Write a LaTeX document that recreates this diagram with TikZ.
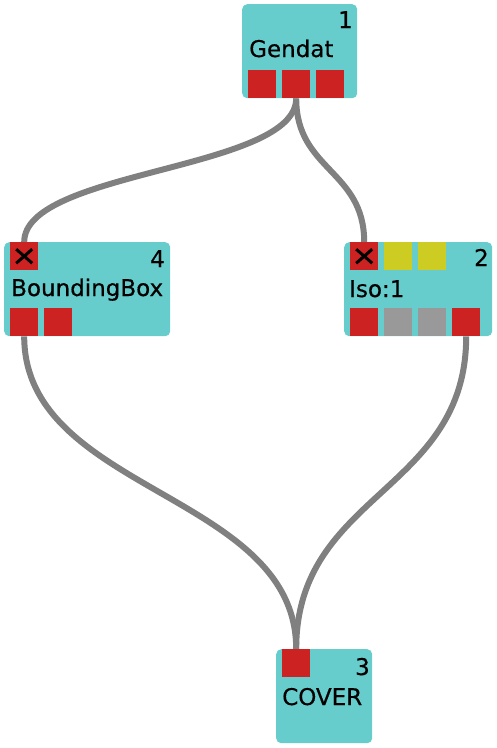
\documentclass[tikz,border=0pt]{standalone}
\usepackage{fontspec}
\setmainfont{DejaVu Sans}
\usetikzlibrary{backgrounds}
\definecolor{modcyan}{RGB}{102,204,204}
\definecolor{portred}{RGB}{204,34,34}
\definecolor{portyellow}{RGB}{204,204,34}
\definecolor{portgray}{RGB}{153,153,153}
\definecolor{wiregray}{RGB}{128,128,128}
\tikzset{
  module/.style={fill=modcyan, rounded corners=5pt, anchor=north west, inner sep=0pt, minimum height=94pt},
  port/.style={fill=#1, anchor=north west, inner sep=0pt, minimum size=28pt},
  port/.default=portred,
  lbl/.style={inner sep=0pt, font=\fontsize{23}{27}\selectfont\addfontfeatures{FakeBold=0.4}},
  wire/.style={draw=wiregray, line width=6pt},
  cross/.style={draw=black, line width=3pt},
}

\begin{document}
\begin{tikzpicture}[x=1pt,y=-1pt]
        \useasboundingbox (0,0) rectangle (496,748);

        % Gendat
        \node[module, minimum width=115pt] at (242,4) (g) {};
        \node[port] at (248,70) (g-o1) {};
        \node[port] at (282,70) (g-o2) {};
        \node[port] at (316,70) (g-o3) {};
        \node[lbl, anchor=base west] at (249,57) (g-name) {Gendat};
        \node[lbl, anchor=base east] at (353,28) (g-num) {1};

        % BoundingBox
        \node[module, minimum width=166pt] at (4,242) (b) {};
        \node[port] at (10,242) (b-i1) {};
        \node[port] at (10,308) (b-o1) {};
        \node[port] at (44,308) (b-o2) {};
        \node[lbl, anchor=base west] at (11,296) (b-name) {BoundingBox};
        \node[lbl, anchor=base east] at (165,267) (b-num) {4};

        % Iso:1
        \node[module, minimum width=148pt] at (344,242) (s) {};
        \node[port] at (350,242) (s-i1) {};
        \node[port=portyellow] at (384,242) (s-i2) {};
        \node[port=portyellow] at (418,242) (s-i3) {};
        \node[port] at (350,308) (s-o1) {};
        \node[port=portgray] at (384,308) (s-o2) {};
        \node[port=portgray] at (418,308) (s-o3) {};
        \node[port] at (452,308) (s-o4) {};
        \node[lbl, anchor=base west] at (349,297) (s-name) {Iso:1};
        \node[lbl, anchor=base east] at (489,266) (s-num) {2};

        % COVER
        \node[module, minimum width=96pt] at (276,649) (c) {};
        \node[port] at (282,649) (c-i1) {};
        \node[lbl, anchor=base west] at (282,705) (c-name) {COVER};
        \node[lbl, anchor=base east] at (370,675) (c-num) {3};

        % unconnected inputs
        \draw[cross] ([shift={(-8,-7)}]b-i1.center) -- ([shift={(8,7)}]b-i1.center);
        \draw[cross] ([shift={(-8,7)}]b-i1.center) -- ([shift={(8,-7)}]b-i1.center);
        \draw[cross] ([shift={(-8,-7)}]s-i1.center) -- ([shift={(8,7)}]s-i1.center);
        \draw[cross] ([shift={(-8,7)}]s-i1.center) -- ([shift={(8,-7)}]s-i1.center);

        \begin{scope}[on background layer]
        \draw[wire] (g-o2.south) .. controls +(0,72) and +(0,-72) .. (b-i1.north);
        \draw[wire] (g-o2.south) .. controls +(0,72) and +(0,-72) .. (s-i1.north);
        \draw[wire] (b-o1.south) .. controls +(0,156) and +(0,-156) .. (c-i1.north);
        \draw[wire] (s-o4.south) .. controls +(0,156) and +(0,-156) .. (c-i1.north);
        \end{scope}

    \end{tikzpicture}
\end{document}
